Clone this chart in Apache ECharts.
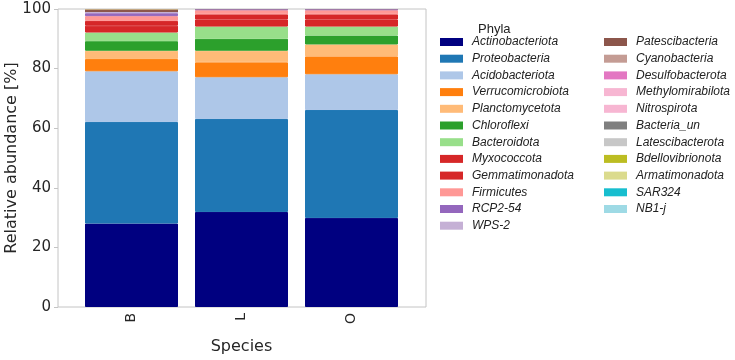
<!DOCTYPE html>
<html>
<head>
<meta charset="utf-8">
<script src="https://cdn.jsdelivr.net/npm/echarts@6/dist/echarts.min.js"></script>
<style>html,body{margin:0;padding:0;background:#fff;}#c{width:735px;height:360px;}</style>
</head>
<body>
<div id="c"></div>
<script>
var categories = ['B', 'L', 'O'];
var phyla = ['Actinobacteriota','Proteobacteria','Acidobacteriota','Verrucomicrobiota','Planctomycetota','Chloroflexi','Bacteroidota','Myxococcota','Gemmatimonadota','Firmicutes','RCP2-54','WPS-2','Patescibacteria','Cyanobacteria','Desulfobacterota','Methylomirabilota','Nitrospirota','Bacteria_un','Latescibacterota','Bdellovibrionota','Armatimonadota','SAR324','NB1-j'];
var colors = ['#000080','#1f77b4','#aec7e8','#ff7f0e','#ffbb78','#2ca02c','#98df8a','#d62728','#d62728','#ff9896','#9467bd','#c5b0d5','#8c564b','#c49c94','#e377c2','#f7b6d2','#f7b6d2','#7f7f7f','#c7c7c7','#bcbd22','#dbdb8d','#17becf','#9edae5'];
// values per sample, in phyla order
var valuesB = [28.0, 34.1, 17.0, 4.1, 2.8, 3.2, 2.9, 2.3, 1.6, 1.6, 1.0, 0.4, 0.8, 0.04, 0.03, 0.02, 0.02, 0.02, 0.02, 0.02, 0.02, 0.02, 0.01];
var valuesL = [31.9, 31.2, 14.0, 5.0, 3.9, 4.0, 4.1, 2.4, 1.7, 1.4, 0.3, 0.05, 0.02, 0.01, 0.01, 0.01, 0.01, 0.0, 0.0, 0.0, 0.0, 0.0, 0.0];
var valuesO = [29.9, 36.2, 12.0, 6.0, 4.0, 3.0, 3.0, 2.4, 1.7, 1.4, 0.3, 0.05, 0.02, 0.01, 0.01, 0.01, 0.01, 0.0, 0.0, 0.0, 0.0, 0.0, 0.0];
var yTicks = [0, 20, 40, 60, 80, 100];

var samples = [valuesB, valuesL, valuesO];
var legendCol1 = phyla.slice(0, 12);
var legendCol2 = phyla.slice(12);
var series = phyla.map(function(name, i){
  return {
    name: name, type: 'bar', stack: 'total', barWidth: 93,
    xAxisIndex: 0, yAxisIndex: 0,
    itemStyle: {color: colors[i]},
    emphasis: {disabled: true},
    data: samples.map(function(s){
      var v = s[i];
      return {value: v, itemStyle: {borderColor: colors[i], borderWidth: v >= 1 ? 1 : 0}};
    })
  };
});
var chart = echarts.init(document.getElementById('c'), null, {renderer: 'canvas'});
var legendText = {fontFamily: 'Liberation Sans', fontStyle: 'italic', fontSize: 12, color: '#222', lineHeight: 14, padding: [0,0,0,4]};
chart.setOption({
  animation: false,
  backgroundColor: '#fff',
  grid: [
    {left: 76.5, top: 9, width: 330, height: 298, outerBoundsMode: 'none', containLabel: false},
    {left: 58, top: 9, width: 368, height: 298, show: true, borderColor: '#c4c4c4', borderWidth: 1, backgroundColor: 'transparent', outerBoundsMode: 'none', containLabel: false}
  ],
  title: {text: 'Phyla', left: 478, top: 23, padding: 0, textStyle: {fontFamily: 'Liberation Sans', fontSize: 13, fontWeight: 'normal', color: '#222'}},
  legend: [
    {data: legendCol1, orient: 'vertical', left: 440, top: 35, padding: 0, itemWidth: 23, itemHeight: 8, itemGap: 2.7, icon: 'rect', textStyle: legendText, selectedMode: false},
    {data: legendCol2, orient: 'vertical', left: 604, top: 35, padding: 0, itemWidth: 23, itemHeight: 8, itemGap: 2.7, icon: 'rect', textStyle: legendText, selectedMode: false}
  ],
  xAxis: [
    {
      type: 'category', data: categories, gridIndex: 0,
      name: 'Species', nameLocation: 'middle', nameGap: 32, nameMoveOverlap: false,
      nameTextStyle: {fontFamily: 'DejaVu Sans', fontSize: 16, color: '#262626', verticalAlign: 'top'},
      axisLine: {show: false}, splitLine: {show: false}, axisTick: {show: false},
      axisLabel: {rotate: 90, margin: 6, fontFamily: 'DejaVu Sans', fontSize: 14, color: '#262626'}
    },
    {type: 'value', gridIndex: 1, min: 0, max: 1, show: false}
  ],
  yAxis: [
    {type: 'value', gridIndex: 0, min: 0, max: 100, show: false},
    {
      type: 'value', gridIndex: 1, min: 0, max: 100, interval: 20,
      name: 'Relative abundance [%]', nameLocation: 'middle', nameGap: 38, nameMoveOverlap: false,
      nameTextStyle: {fontFamily: 'DejaVu Sans', fontSize: 16, color: '#262626'},
      axisLine: {show: false, onZero: false}, splitLine: {show: false},
      axisTick: {show: true, length: 4, lineStyle: {color: '#c4c4c4'}},
      axisLabel: {margin: 7, fontFamily: 'DejaVu Sans', fontSize: 15, color: '#262626',
        formatter: function(v){ return yTicks.indexOf(v) >= 0 ? String(v) : ''; }}
    }
  ],
  series: series
});
</script>
</body>
</html>
